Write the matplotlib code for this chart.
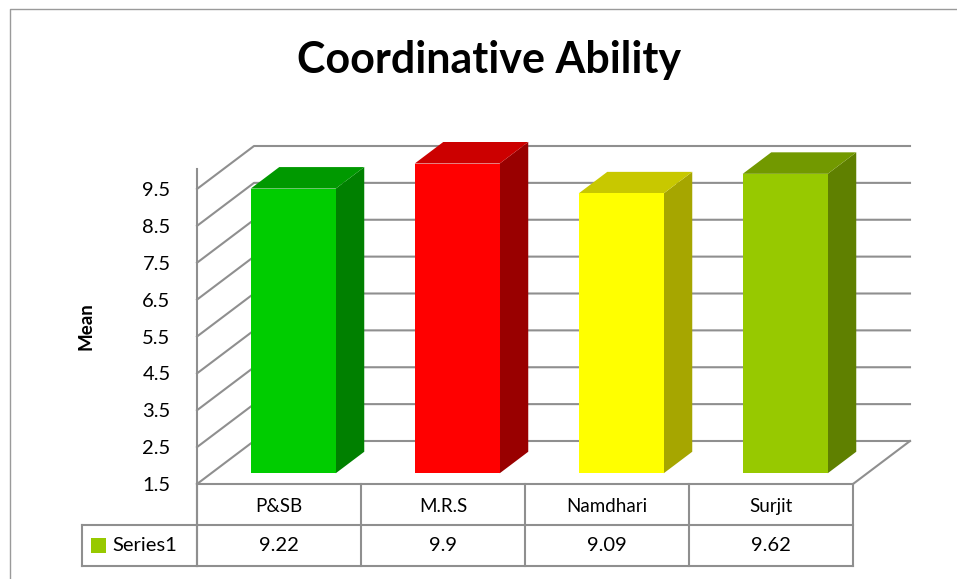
import matplotlib
matplotlib.use("Agg")
import matplotlib.pyplot as plt
from matplotlib.patches import Polygon, Rectangle

# ---------------------------------------------------------
# DATA
# ---------------------------------------------------------
categories = ["P&SB", "M.R.S", "Namdhari", "Surjit"]
means = [9.22, 9.9, 9.09, 9.62]
y_ticks = [1.5, 2.5, 3.5, 4.5, 5.5, 6.5, 7.5, 8.5, 9.5]
series_name = "Series1"

front_colors = ["#00cc00", "#ff0000", "#ffff00", "#97c900"]
top_colors = ["#009900", "#cc0000", "#c8c800", "#729900"]
side_colors = ["#008000", "#990000", "#a6a600", "#5f8000"]
swatch_color = "#97c900"
line_color = "#8f8f8f"

# ---------------------------------------------------------
# LAYOUT (pixels of the 957x579 picture)
# ---------------------------------------------------------
W, H = 957, 579
LEFT, RIGHT, BOTTOM, TOP = 197, 853, 484, 189
UNIT_X = (RIGHT - LEFT) / 4
UNIT_Y = (BOTTOM - TOP) / 8
DEPTH_X = 57 / UNIT_X   # oblique offset of the back wall, in category units
DEPTH_Y = 43 / UNIT_Y   # same, in value units
BAR_W = 85 / UNIT_X
ROW = 41 / UNIT_Y
BASE = y_ticks[0]
LW = 1.5

fig = plt.figure(figsize=(W / 100, H / 100), dpi=100)
ax = fig.add_axes([LEFT / W, 1 - BOTTOM / H, (RIGHT - LEFT) / W, (BOTTOM - TOP) / H])
ax.set_xlim(0, 4)
ax.set_ylim(BASE, y_ticks[-1])
ax.patch.set_visible(False)
for s in ax.spines.values():
    s.set_visible(False)


def grey(xs, ys, z=1):
    ax.plot(xs, ys, color=line_color, lw=LW, clip_on=False, zorder=z,
            solid_capstyle="projecting")


# ---------------------------------------------------------
# WALLS, FLOOR
# ---------------------------------------------------------
for v in y_ticks:
    grey([0, DEPTH_X, 4 + DEPTH_X], [v, v + DEPTH_Y, v + DEPTH_Y])
grey([0, 0], [BASE - 2 * ROW, 10.04])
grey([0, 4], [BASE, BASE], z=2)
grey([4, 4 + DEPTH_X], [BASE, BASE + DEPTH_Y])

# ---------------------------------------------------------
# BARS
# ---------------------------------------------------------
for i, v in enumerate(means):
    x0 = i + 0.5 - BAR_W / 2 + 0.25 * DEPTH_X
    x1 = x0 + BAR_W
    y0 = BASE + 0.25 * DEPTH_Y
    y1 = v + 0.25 * DEPTH_Y
    dx = 0.5 * DEPTH_X
    dy = 0.5 * DEPTH_Y
    ax.add_patch(Polygon([(x1, y0), (x1 + dx, y0 + dy), (x1 + dx, y1 + dy), (x1, y1)],
                         fc=side_colors[i], ec="none", clip_on=False, zorder=3))
    ax.add_patch(Polygon([(x0, y1), (x1, y1), (x1 + dx, y1 + dy), (x0 + dx, y1 + dy)],
                         fc=top_colors[i], ec="none", clip_on=False, zorder=3))
    ax.add_patch(Rectangle((x0, y0), BAR_W, y1 - y0,
                           fc=front_colors[i], ec="none", clip_on=False, zorder=4))

# ---------------------------------------------------------
# AXIS TEXT
# ---------------------------------------------------------
FONT = "Lato"
ax.set_yticks(y_ticks)
ax.set_yticklabels([f"{t:.1f}" for t in y_ticks], fontsize=14.5, family=FONT, color="black")
ax.tick_params(axis="y", length=0, pad=19)
ax.set_xticks([i + 0.5 for i in range(4)])
ax.set_xticklabels(categories, fontsize=13.5, family=FONT, color="black")
ax.tick_params(axis="x", length=0, pad=10)

fig.text(86 / W, 1 - 326 / H, "Mean", rotation=90, ha="center", va="center",
         fontsize=13.5, fontweight="bold", family=FONT)
fig.text(489 / W, 1 - 60 / H, "Coordinative Ability", ha="center", va="center",
         fontsize=31, fontweight="bold", family=FONT)

# ---------------------------------------------------------
# DATA TABLE
# ---------------------------------------------------------
left_cell = (82 - LEFT) / UNIT_X
for i in range(5):
    grey([i, i], [BASE, BASE - 2 * ROW])
grey([left_cell, 4], [BASE - ROW, BASE - ROW])
grey([left_cell, 4], [BASE - 2 * ROW, BASE - 2 * ROW])
grey([left_cell, left_cell], [BASE - ROW, BASE - 2 * ROW])

row_mid = BASE - 1.5 * ROW
for i, v in enumerate(means):
    ax.text(i + 0.5, row_mid, f"{v:g}", ha="center", va="center", fontsize=14.5,
            family=FONT, clip_on=False)
ax.add_patch(Rectangle(((91 - LEFT) / UNIT_X, row_mid - 7.5 / UNIT_Y), 15 / UNIT_X, 15 / UNIT_Y,
                       fc=swatch_color, ec="none", clip_on=False))
ax.text((112 - LEFT) / UNIT_X, row_mid, series_name, ha="left", va="center", fontsize=14.5,
        family=FONT, clip_on=False)

# ---------------------------------------------------------
# CHART FRAME
# ---------------------------------------------------------
fig.add_artist(plt.Line2D([10 / W, 10 / W, 1], [0, 1 - 9 / H, 1 - 9 / H],
                          color="#9a9a9a", lw=1.0))

fig.savefig("out.png", dpi=100)
